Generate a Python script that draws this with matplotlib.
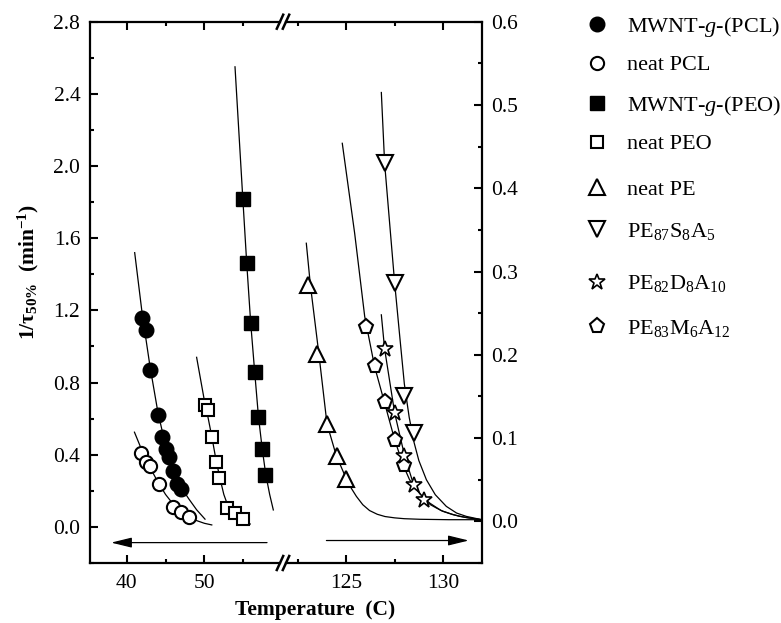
import matplotlib
matplotlib.use('Agg')
import matplotlib.pyplot as plt
from matplotlib.ticker import MultipleLocator, FixedLocator

plt.rcParams['font.family'] = ['Liberation Serif', 'DejaVu Serif']
plt.rcParams['mathtext.fontset'] = 'custom'
plt.rcParams['mathtext.rm'] = 'Liberation Serif'
plt.rcParams['mathtext.it'] = 'Liberation Serif:italic'
plt.rcParams['mathtext.bf'] = 'Liberation Serif:bold'

# ---------------- data (left panel: PCL / PEO, left y-axis) ----------------
pcl_mwnt_x = [42, 42.5, 43, 44, 44.5, 45, 45.5, 46, 46.5, 47]
pcl_mwnt_y = [1.16, 1.09, 0.87, 0.62, 0.50, 0.43, 0.39, 0.31, 0.24, 0.21]
pcl_neat_x = [41.9, 42.5, 43, 44.1, 45.9, 47, 48]
pcl_neat_y = [0.41, 0.36, 0.34, 0.24, 0.11, 0.08, 0.057]
peo_mwnt_x = [54.93, 55.45, 55.96, 56.47, 56.96, 57.45, 57.85]
peo_mwnt_y = [1.82, 1.46, 1.13, 0.86, 0.61, 0.43, 0.29]
peo_neat_x = [50.08, 50.5, 50.94, 51.45, 51.9, 52.95, 53.9, 55.0]
peo_neat_y = [0.676, 0.648, 0.50, 0.358, 0.27, 0.104, 0.076, 0.044]

# fitted curves
fit_pcl_mwnt_x = [41.03, 42, 43, 44, 45, 46, 47, 48, 49, 50.08]
fit_pcl_mwnt_y = [1.52, 1.18, 0.89, 0.64, 0.45, 0.315, 0.22, 0.155, 0.095, 0.043]
fit_pcl_neat_x = [41.0, 42, 43, 44, 45, 46, 47, 48, 49, 50, 50.95]
fit_pcl_neat_y = [0.525, 0.42, 0.33, 0.25, 0.18, 0.125, 0.085, 0.057, 0.035, 0.02, 0.011]
fit_peo_neat_x = [49.0, 49.5, 50, 50.5, 51, 51.5, 52, 52.5, 53, 53.5, 54, 55, 55.9]
fit_peo_neat_y = [0.94, 0.82, 0.70, 0.60, 0.49, 0.37, 0.27, 0.18, 0.12, 0.085, 0.062, 0.035, 0.016]
fit_peo_mwnt_x = [53.94, 54.93, 55.45, 55.96, 56.47, 56.96, 57.45, 57.9, 58.4, 58.87]
fit_peo_mwnt_y = [2.55, 1.83, 1.46, 1.13, 0.86, 0.61, 0.43, 0.29, 0.18, 0.094]

# ---------------- data (right panel: PE series, right y-axis) ----------------
pe_neat_x = [123, 123.5, 124, 124.5, 125]
pe_neat_y = [0.284, 0.201, 0.117, 0.079, 0.051]
pe_s_x = [127, 127.5, 128, 128.5]
pe_s_y = [0.430, 0.286, 0.151, 0.106]
pe_d_x = [127, 127.5, 128, 128.5, 129]
pe_d_y = [0.207, 0.130, 0.078, 0.044, 0.026]
pe_m_x = [126, 126.5, 127, 127.5, 128]
pe_m_y = [0.233, 0.186, 0.143, 0.098, 0.068]

fit_pe_neat_x = [122.93, 123.14, 123.58, 124.0, 124.48, 125.0, 125.25, 125.52, 125.85,
                 126.2, 126.6, 127.0, 127.5, 128.0, 128.8, 130.3, 132.0]
fit_pe_neat_y = [0.334, 0.284, 0.201, 0.117, 0.079, 0.051, 0.040, 0.030, 0.020,
                 0.013, 0.0085, 0.0058, 0.0042, 0.0032, 0.0025, 0.002, 0.002]
fit_pe_s_x = [126.81, 126.98, 127.25, 127.5, 127.75, 128.0, 128.25, 128.5, 128.75, 129.14,
              129.6, 130.17, 130.7, 131.2, 132.0]
fit_pe_s_y = [0.515, 0.43, 0.355, 0.286, 0.225, 0.165, 0.125, 0.095, 0.073, 0.050,
              0.032, 0.018, 0.010, 0.006, 0.002]
fit_pe_d_x = [126.81, 126.98, 127.5, 128.02, 128.48, 129.05, 129.35, 129.66, 130.0,
              130.4, 130.86, 131.4, 132.0]
fit_pe_d_y = [0.248, 0.207, 0.130, 0.078, 0.044, 0.026, 0.020, 0.016, 0.012,
              0.009, 0.006, 0.004, 0.002]
fit_pe_m_x = [124.79, 125.43, 125.95, 126.46, 126.98, 127.5, 127.93, 128.27, 128.8,
              129.31, 129.9, 130.52, 131.2, 132.0]
fit_pe_m_y = [0.454, 0.346, 0.246, 0.186, 0.142, 0.098, 0.068, 0.050, 0.033,
              0.022, 0.013, 0.008, 0.0045, 0.002]

labels = ['MWNT-$g$-(PCL)', 'neat PCL', 'MWNT-$g$-(PEO)', 'neat PEO', 'neat PE',
          'PE$_{87}$S$_{8}$A$_{5}$', 'PE$_{82}$D$_{8}$A$_{10}$', 'PE$_{83}$M$_{6}$A$_{12}$']
left_yticks = [0.0, 0.4, 0.8, 1.2, 1.6, 2.0, 2.4, 2.8]
right_yticks = [0.0, 0.1, 0.2, 0.3, 0.4, 0.5, 0.6]

W, H = 781, 623
fig = plt.figure(figsize=(W / 100, H / 100), dpi=100)


def box(x0, x1, y0, y1):
    return [x0 / W, 1 - y1 / H, (x1 - x0) / W, (y1 - y0) / H]


axL = fig.add_axes(box(90, 280, 21.7, 563))
axR = fig.add_axes(box(286, 481.7, 21.7, 563))

axL.set_xlim(35.28, 59.73)
axL.set_ylim(-0.2, 2.8)
axR.set_xlim(121.88, 132.0)
axR.set_ylim(-0.05, 0.6)

lw_fit = 0.9
mew = 1.5
for fx, fy in [(fit_pcl_mwnt_x, fit_pcl_mwnt_y), (fit_pcl_neat_x, fit_pcl_neat_y),
               (fit_peo_neat_x, fit_peo_neat_y), (fit_peo_mwnt_x, fit_peo_mwnt_y)]:
    axL.plot(fx, fy, color='black', lw=lw_fit, zorder=2)
for fx, fy in [(fit_pe_neat_x, fit_pe_neat_y), (fit_pe_s_x, fit_pe_s_y),
               (fit_pe_d_x, fit_pe_d_y), (fit_pe_m_x, fit_pe_m_y)]:
    axR.plot(fx, fy, color='black', lw=lw_fit, zorder=2)

h1, = axL.plot(pcl_mwnt_x, pcl_mwnt_y, 'o', ms=10.5, mfc='black', mec='black', zorder=3)
h2, = axL.plot(pcl_neat_x, pcl_neat_y, 'o', ms=9.5, mfc='white', mec='black', mew=mew, zorder=3)
h3, = axL.plot(peo_mwnt_x, peo_mwnt_y, 's', ms=9.5, mfc='black', mec='black', zorder=3)
h4, = axL.plot(peo_neat_x, peo_neat_y, 's', ms=8.5, mfc='white', mec='black', mew=mew, zorder=3)
h5, = axR.plot(pe_neat_x, pe_neat_y, '^', ms=12, mfc='white', mec='black', mew=mew, zorder=3)
h6, = axR.plot(pe_s_x, pe_s_y, 'v', ms=12, mfc='white', mec='black', mew=mew, zorder=3)
h7, = axR.plot(pe_d_x, pe_d_y, '*', ms=12, mfc='white', mec='black', mew=1.2, zorder=4)
h8, = axR.plot(pe_m_x, pe_m_y, 'p', ms=11, mfc='white', mec='black', mew=mew, zorder=3)
handles = [h1, h2, h3, h4, h5, h6, h7, h8]

axL.annotate('', xy=(38.0, -0.087), xytext=(58.06, -0.087),
             arrowprops=dict(arrowstyle='-|>,head_length=0.9,head_width=0.22', lw=0.9,
                             color='black', mutation_scale=14, shrinkA=0, shrinkB=0))
axR.annotate('', xy=(131.33, -0.023), xytext=(123.97, -0.023),
             arrowprops=dict(arrowstyle='-|>,head_length=0.9,head_width=0.22', lw=0.9,
                             color='black', mutation_scale=14, shrinkA=0, shrinkB=0))

tick_fs = 15.5
for ax in (axL, axR):
    for s in ax.spines.values():
        s.set_linewidth(1.6)
    ax.tick_params(which='both', direction='in', width=1.5, labelsize=tick_fs, top=True)
    ax.tick_params(which='major', length=6)
    ax.tick_params(which='minor', length=3.2)

axL.spines['right'].set_visible(False)
axR.spines['left'].set_visible(False)

axL.xaxis.set_major_locator(FixedLocator([40, 50]))
axL.xaxis.set_minor_locator(FixedLocator([45, 55]))
axR.xaxis.set_major_locator(FixedLocator([125, 130]))
axR.xaxis.set_minor_locator(FixedLocator([122.5, 127.5]))
axL.set_xticklabels(['40', '50'])
axR.set_xticklabels(['125', '130'])

axL.set_yticks(left_yticks)
axL.set_yticklabels([f'{v:.1f}' for v in left_yticks])
axL.yaxis.set_minor_locator(MultipleLocator(0.2))
axL.tick_params(axis='y', which='both', left=True, right=False, labelleft=True, labelright=False)
axL.tick_params(axis='y', which='major', pad=7)
axL.tick_params(axis='x', which='major', pad=8)

axR.set_yticks(right_yticks)
axR.set_yticklabels([f'{v:.1f}' for v in right_yticks])
axR.yaxis.set_minor_locator(MultipleLocator(0.05))
axR.tick_params(axis='y', which='both', left=False, right=True, labelleft=False, labelright=True)
axR.tick_params(axis='y', which='major', pad=7)
axR.tick_params(axis='x', which='major', pad=8)

for ax, xa in ((axL, 1.0), (axR, 0.0)):
    bb = ax.get_position()
    dx = 3.2 / (bb.width * W)
    dy = 7.0 / (bb.height * H)
    for ya in (0.0, 1.0):
        ax.plot([xa - dx, xa + dx], [ya - dy, ya + dy], transform=ax.transAxes,
                color='black', lw=1.8, clip_on=False, zorder=5)

fig.text(28 / W, 1 - 272 / H, r'$\mathbf{1/\tau}_{\mathbf{50\%}}$  $\mathbf{(min}^{\mathbf{-1}}\mathbf{)}$',
         rotation=90, ha='center', va='center', fontsize=15.5)
fig.text(315 / W, 1 - 610 / H, 'Temperature  (C)', fontweight='bold',
         ha='center', va='center', fontsize=15.5)

row_y = [26.7, 65, 106, 144, 190, 231.7, 284, 328.3]
for h, lab, ry in zip(handles, labels, row_y):
    fig.legend(handles=[h], labels=[lab], loc='center left',
               bbox_to_anchor=(586 / W, 1 - ry / H), frameon=False,
               handlelength=1.0, handletextpad=0.85, borderpad=0, borderaxespad=0,
               fontsize=16, markerscale=1.0)

fig.savefig('out.png', dpi=100)
